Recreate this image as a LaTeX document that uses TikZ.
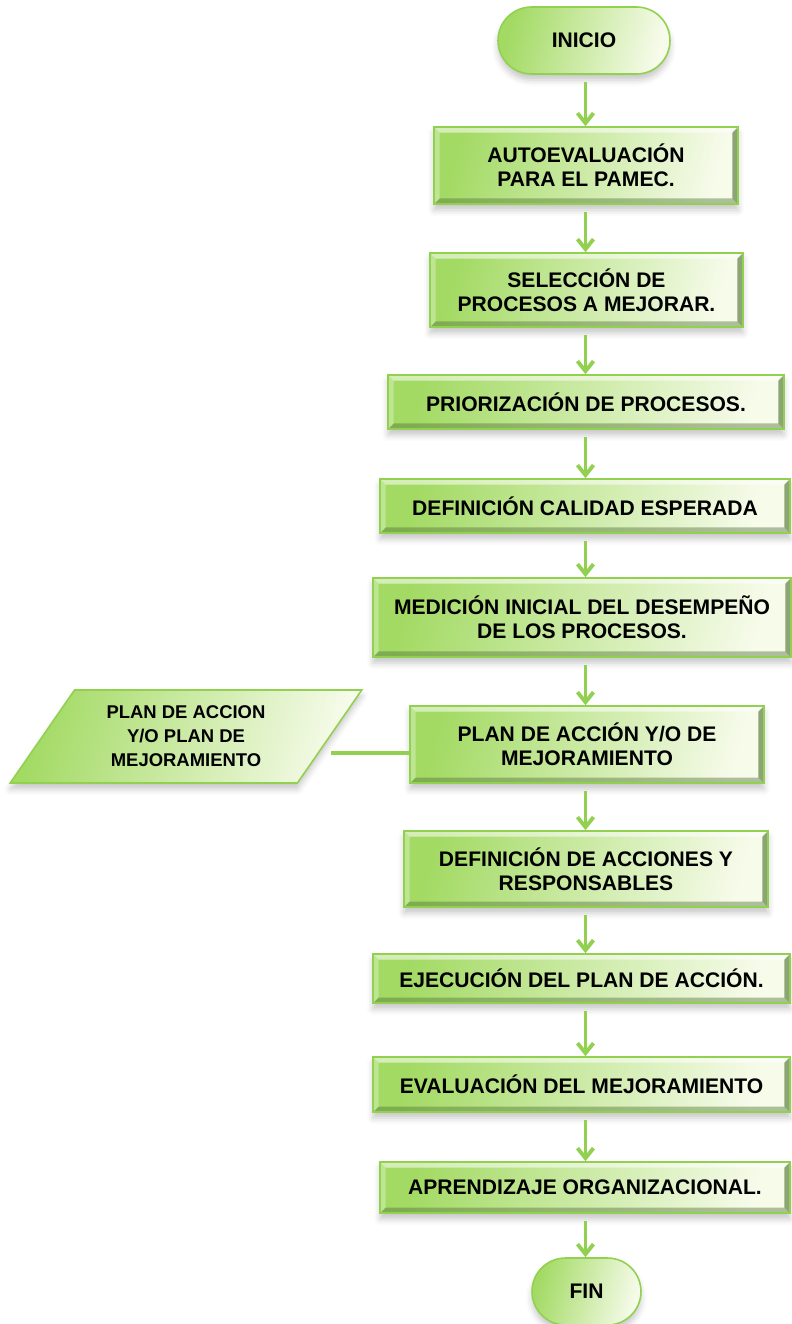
\documentclass[tikz,border=0pt]{standalone}
\usepackage{fontspec}
\setmainfont{Liberation Sans}
\usetikzlibrary{shapes.geometric,shapes.misc,shadows.blur,arrows.meta}

\definecolor{flowgreen}{HTML}{92D050}
\definecolor{boxgreen}{HTML}{A3DA64}
\definecolor{boxpale}{HTML}{F6FBEA}
\definecolor{bevdark}{HTML}{56763A}

\tikzset{
  bevel/.style={path picture={
    \fill[bevdark, opacity=.45] (path picture bounding box.south west) -- (path picture bounding box.south east)
      -- ([shift={(-0.11cm,0.11cm)}]path picture bounding box.south east) -- ([shift={(0.11cm,0.11cm)}]path picture bounding box.south west) -- cycle;
    \fill[bevdark, opacity=.65] (path picture bounding box.south east) -- (path picture bounding box.north east)
      -- ([shift={(-0.11cm,-0.11cm)}]path picture bounding box.north east) -- ([shift={(-0.11cm,0.11cm)}]path picture bounding box.south east) -- cycle;
    \fill[white, opacity=.55] (path picture bounding box.north west) -- (path picture bounding box.north east)
      -- ([shift={(-0.11cm,-0.11cm)}]path picture bounding box.north east) -- ([shift={(0.11cm,-0.11cm)}]path picture bounding box.north west) -- cycle;
    \fill[white, opacity=.3] (path picture bounding box.north west) -- (path picture bounding box.south west)
      -- ([shift={(0.11cm,0.11cm)}]path picture bounding box.south west) -- ([shift={(0.11cm,-0.11cm)}]path picture bounding box.north west) -- cycle;
  }},
  greenfill/.style={draw=flowgreen, line width=0.9pt, left color=boxgreen, right color=boxpale, shading angle=75,
    blur shadow={shadow xshift=0pt, shadow yshift=-0.12cm, shadow blur radius=0.12cm, shadow opacity=22}},
  stepbox/.style={greenfill, bevel, inner sep=0pt, align=center, font=\bfseries\fontsize{12}{13.5}\selectfont},
  terminal/.style={greenfill, rounded rectangle, inner sep=0pt, font=\bfseries\fontsize{12}{13.5}\selectfont,
    minimum width=#1, minimum height=1.34cm},
  datadoc/.style={greenfill, trapezium, trapezium left angle=53, trapezium right angle=127, trapezium stretches=true,
    inner sep=0pt, align=center, font=\bfseries\fontsize{10.5}{13.6}\selectfont},
  flow/.style={flowgreen, line width=2.2pt, shorten <=0.15cm, -{Straight Barb[length=0.2cm, width=0.32cm]}},
  link/.style={flowgreen, line width=2.2pt}
}

\begin{document}
\begin{tikzpicture}[x=0.02cm, y=-0.02cm]
\useasboundingbox (0,0) rectangle (791,1324);

\node[terminal=3.44cm] (inicio) at (584,40.5) {INICIO};
\node[stepbox, minimum width=6.08cm, minimum height=1.54cm] (autoeval) at (586,165.5) {AUTOEVALUACIÓN\\PARA EL PAMEC.};
\node[stepbox, minimum width=6.26cm, minimum height=1.48cm] (seleccion) at (586.5,290) {SELECCIÓN DE\\PROCESOS A MEJORAR.};
\node[stepbox, minimum width=7.92cm, minimum height=1.08cm] (priorizacion) at (586,402) {PRIORIZACIÓN DE PROCESOS.};
\node[stepbox, minimum width=8.2cm, minimum height=1.08cm] (calidad) at (585,506) {DEFINICIÓN CALIDAD ESPERADA};
\node[stepbox, minimum width=8.36cm, minimum height=1.58cm] (medicion) at (582,617.5) {MEDICIÓN INICIAL DEL DESEMPEÑO\\DE LOS PROCESOS.};
\node[stepbox, minimum width=7.08cm, minimum height=1.54cm] (plan) at (587,744.5) {PLAN DE ACCIÓN Y/O DE\\MEJORAMIENTO};
\node[stepbox, minimum width=7.28cm, minimum height=1.52cm] (acciones) at (586,869) {DEFINICIÓN DE ACCIONES Y\\RESPONSABLES};
\node[stepbox, minimum width=8.34cm, minimum height=0.98cm] (ejecucion) at (581.5,978.5) {EJECUCIÓN DEL PLAN DE ACCIÓN.};
\node[stepbox, minimum width=8.34cm, minimum height=1.1cm] (evaluacion) at (581.5,1084.5) {EVALUACIÓN DEL MEJORAMIENTO};
\node[stepbox, minimum width=8.2cm, minimum height=1.02cm] (aprendizaje) at (585,1187.5) {APRENDIZAJE ORGANIZACIONAL.};
\node[terminal=2.18cm] (fin) at (586.5,1291.5) {FIN};

\node[datadoc, minimum width=7.04cm, minimum height=1.86cm] (plandoc) at (186,736.5) {PLAN DE ACCION\\Y/O PLAN DE\\MEJORAMIENTO};

\coordinate (spine) at (585.5,0);
\draw[flow] (inicio.south -| spine) -- (autoeval.north -| spine);
\draw[flow] (autoeval.south -| spine) -- (seleccion.north -| spine);
\draw[flow] (seleccion.south -| spine) -- (priorizacion.north -| spine);
\draw[flow] (priorizacion.south -| spine) -- (calidad.north -| spine);
\draw[flow] (calidad.south -| spine) -- (medicion.north -| spine);
\draw[flow] (medicion.south -| spine) -- (plan.north -| spine);
\draw[flow] (plan.south -| spine) -- (acciones.north -| spine);
\draw[flow] (acciones.south -| spine) -- (ejecucion.north -| spine);
\draw[flow] (ejecucion.south -| spine) -- (evaluacion.north -| spine);
\draw[flow] (evaluacion.south -| spine) -- (aprendizaje.north -| spine);
\draw[flow] (aprendizaje.south -| spine) -- (fin.north -| spine);

\coordinate (joint) at ([yshift=-0.17cm]plan.west);
\draw[link] (joint) -- (joint -| plandoc.east);

\end{tikzpicture}
\end{document}
